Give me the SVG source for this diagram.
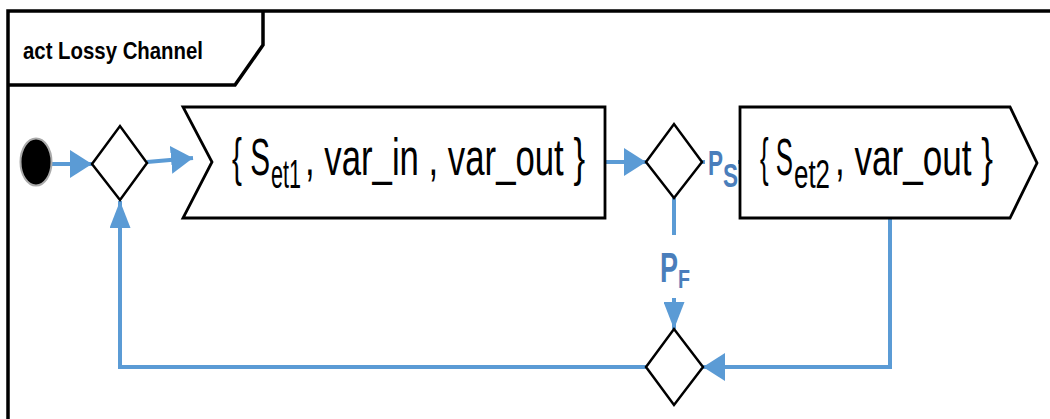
<svg xmlns="http://www.w3.org/2000/svg" width="1050" height="419" viewBox="0 0 1050 419">
<defs>
<style>
.frame{fill:none;stroke:#000;stroke-width:3.5}
.shape{fill:#fff;stroke:#000;stroke-width:2.8;stroke-linejoin:miter}
.dec{fill:#fff;stroke:#000;stroke-width:2.5}
.flow{fill:none;stroke:#5B9BD5;stroke-width:4}
.txt{font-family:"Liberation Sans",Arial,sans-serif;fill:#000}
.lbl{font-family:"Liberation Sans",Arial,sans-serif;font-weight:bold;fill:#4A7EBB}
.mask{fill:#fff;stroke:none}
</style>
<marker id="ah" markerUnits="userSpaceOnUse" viewBox="0 0 22 28" refX="22" refY="14" markerWidth="22" markerHeight="28" orient="auto">
<path d="M0,0 L22,14 L0,28 Z" fill="#5B9BD5"/>
</marker>
<marker id="av" markerUnits="userSpaceOnUse" viewBox="0 0 27 21" refX="27" refY="10.5" markerWidth="27" markerHeight="21" orient="auto">
<path d="M0,0 L27,10.5 L0,21 Z" fill="#5B9BD5"/>
</marker>
</defs>
<rect width="1050" height="419" fill="#fff"/>
<g id="frame">
<path class="frame" d="M8,421 V11 H1052"/>
<path class="frame" d="M8,85 H235 L263,45 V11"/>
<text class="txt" x="23" y="59" font-size="23" font-weight="bold" textLength="180" lengthAdjust="spacingAndGlyphs">act Lossy Channel</text>
</g>
<g id="connectors">
<path class="flow" d="M52,164 H92" marker-end="url(#ah)"/>
<path class="flow" d="M147,162 L193,158" marker-end="url(#ah)"/>
<path class="flow" d="M605,162 H646" marker-end="url(#ah)"/>
<path class="flow" d="M702,162 H740"/>
<path class="flow" d="M674,198 V329" marker-end="url(#av)"/>
<path class="flow" d="M890,218 V367 H703" marker-end="url(#ah)"/>
<path class="flow" d="M646,367 H120 V201" marker-end="url(#av)"/>
<rect class="mask" x="705" y="146" width="33" height="44"/>
<rect class="mask" x="654" y="235" width="42" height="63"/>
<text class="lbl" x="708" y="175" font-size="35" textLength="15" lengthAdjust="spacingAndGlyphs">P</text>
<text class="lbl" x="723" y="187" font-size="33" textLength="15" lengthAdjust="spacingAndGlyphs">S</text>
<text class="lbl" x="660" y="282" font-size="42" textLength="18" lengthAdjust="spacingAndGlyphs">P</text>
<text class="lbl" x="678" y="288" font-size="25" textLength="12" lengthAdjust="spacingAndGlyphs">F</text>
</g>
<g id="initial">
<ellipse cx="36" cy="162" rx="15.5" ry="23.5" fill="#000" stroke="#aaa" stroke-width="2"/>
</g>
<g id="decision1">
<polygon class="dec" points="92,164 120,126 147,163 120,200"/>
</g>
<g id="action1">
<polygon class="shape" points="183,107 605,107 605,218 183,218 212,162"/>
<text class="txt" x="232" y="175" font-size="52" textLength="38" lengthAdjust="spacingAndGlyphs">{ S</text>
<text class="txt" x="271" y="188" font-size="40" textLength="30" lengthAdjust="spacingAndGlyphs">et1</text>
<text class="txt" x="305" y="175" font-size="52" textLength="280" lengthAdjust="spacingAndGlyphs">, var_in , var_out }</text>
</g>
<g id="decision2">
<polygon class="dec" points="646,162 674,124 702,162 674,198"/>
</g>
<g id="action2">
<polygon class="shape" points="740,107 1010,107 1037,163 1010,218 740,218"/>
<text class="txt" x="760" y="175" font-size="52" textLength="33" lengthAdjust="spacingAndGlyphs">{ S</text>
<text class="txt" x="794" y="188" font-size="40" textLength="36" lengthAdjust="spacingAndGlyphs">et2</text>
<text class="txt" x="835" y="175" font-size="52" textLength="158" lengthAdjust="spacingAndGlyphs">, var_out }</text>
</g>
<g id="merge">
<polygon class="dec" points="646,367 674,329 703,367 674,405"/>
</g>
</svg>
